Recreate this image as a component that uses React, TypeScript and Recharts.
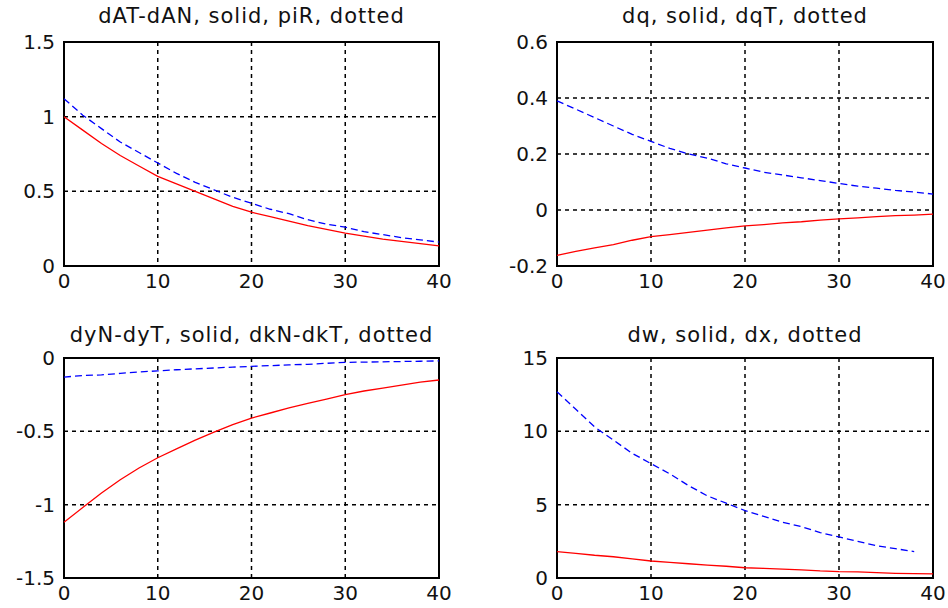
import React from "react";
import { LineChart, Line, XAxis, YAxis, CartesianGrid, ReferenceArea } from "recharts";

// time axis, read every 2 periods
const t = [0, 2, 4, 6, 8, 10, 12, 14, 16, 18, 20, 22, 24, 26, 28, 30, 32, 34, 36, 38, 40];

// dAT-dAN (solid) / piR (dotted)
const dATdAN = [1.0, 0.91, 0.82, 0.74, 0.67, 0.6, 0.55, 0.5, 0.45, 0.4, 0.36, 0.33, 0.3, 0.27, 0.245, 0.22, 0.2, 0.18, 0.165, 0.15, 0.135];
const piR = [1.12, 1.01, 0.92, 0.83, 0.76, 0.69, 0.62, 0.56, 0.51, 0.46, 0.42, 0.38, 0.35, 0.31, 0.28, 0.26, 0.23, 0.21, 0.19, 0.175, 0.16];

// dq (solid) / dqT (dotted)
const dq = [-0.162, -0.148, -0.135, -0.124, -0.108, -0.095, -0.088, -0.08, -0.072, -0.064, -0.057, -0.052, -0.046, -0.042, -0.036, -0.032, -0.028, -0.024, -0.02, -0.018, -0.015];
const dqT = [0.39, 0.36, 0.33, 0.3, 0.27, 0.245, 0.22, 0.2, 0.185, 0.165, 0.15, 0.135, 0.125, 0.115, 0.105, 0.095, 0.085, 0.078, 0.07, 0.064, 0.057];

// dyN-dyT (solid) / dkN-dkT (dotted)
const dyNdyT = [-1.12, -1.02, -0.92, -0.83, -0.75, -0.68, -0.62, -0.56, -0.505, -0.455, -0.41, -0.375, -0.34, -0.31, -0.28, -0.25, -0.225, -0.205, -0.185, -0.165, -0.15];
const dkNdkT = [-0.13, -0.12, -0.115, -0.105, -0.095, -0.088, -0.08, -0.074, -0.068, -0.062, -0.057, -0.052, -0.047, -0.043, -0.036, -0.03, -0.028, -0.026, -0.024, -0.022, -0.02];

// dw (solid) / dx (dotted)
const dw = [1.8, 1.68, 1.55, 1.45, 1.3, 1.16, 1.07, 0.97, 0.88, 0.8, 0.7, 0.66, 0.6, 0.56, 0.48, 0.43, 0.42, 0.36, 0.32, 0.3, 0.28];
const dx = [12.7, 11.5, 10.3, 9.4, 8.5, 7.8, 7.1, 6.3, 5.6, 5.1, 4.6, 4.2, 3.8, 3.5, 3.1, 2.8, 2.5, 2.2, 2.0, 1.8, null];

const xTicks = [0, 10, 20, 30, 40];

const FONT = "'DejaVu Sans', sans-serif";
const tickStyle = { fontSize: 20, fill: "#111", fontFamily: FONT };

interface PanelProps {
  title: string;
  solid: (number | null)[];
  dotted: (number | null)[];
  yTicks: number[];
  left: number;
  top: number;
  margin: { top: number; right: number; bottom: number; left: number };
  titleTop: number;
}

function Panel({ title, solid, dotted, yTicks, left, top, margin, titleTop }: PanelProps) {
  const data = t.map((x, i) => ({ t: x, solid: solid[i], dotted: dotted[i] }));
  const lo = yTicks[0];
  const hi = yTicks[yTicks.length - 1];
  const plotLeft = margin.left + 60;
  const plotRight = 474 - margin.right;
  return (
    <div style={{ position: "absolute", left, top, width: 474, height: 304 }}>
      <div
        style={{
          position: "absolute", top: titleTop, left: plotLeft, width: plotRight - plotLeft,
          textAlign: "center", fontFamily: FONT, fontSize: 21, letterSpacing: 1, color: "#111",
          whiteSpace: "nowrap",
        }}
      >
        {title}
      </div>
      <LineChart width={474} height={304} data={data} margin={margin}>
        <CartesianGrid stroke="#000" strokeWidth={1.5} strokeDasharray="4 4" />
        <XAxis
          dataKey="t" type="number" domain={[0, 40]} ticks={xTicks}
          axisLine={false} tickLine={false} tickSize={0} tickMargin={8} height={30}
          tick={tickStyle} interval={0}
        />
        <YAxis
          type="number" domain={[lo, hi]} ticks={yTicks} width={60}
          axisLine={false} tickLine={false} tickSize={0} tickMargin={9}
          tick={tickStyle} interval={0} allowDataOverflow
        />
        <ReferenceArea x1={0} x2={40} y1={lo} y2={hi} fill="none" stroke="#000" strokeWidth={2} />
        <Line dataKey="dotted" stroke="#0000FF" strokeWidth={1.3} strokeDasharray="7 4" dot={false} isAnimationActive={false} connectNulls={false} />
        <Line dataKey="solid" stroke="#FF0000" strokeWidth={1.3} dot={false} isAnimationActive={false} />
      </LineChart>
    </div>
  );
}

export default function App() {
  return (
    <div style={{ position: "absolute", left: 0, top: 0, width: 948, height: 608, background: "#fff" }}>
      <Panel
        title="dAT-dAN, solid, piR, dotted" solid={dATdAN} dotted={piR} yTicks={[0, 0.5, 1, 1.5]}
        left={0} top={0} margin={{ top: 42, right: 35, bottom: 8, left: 4 }} titleTop={4}
      />
      <Panel
        title="dq, solid, dqT, dotted" solid={dq} dotted={dqT} yTicks={[-0.2, 0, 0.2, 0.4, 0.6]}
        left={474} top={0} margin={{ top: 42, right: 15, bottom: 8, left: 23 }} titleTop={4}
      />
      <Panel
        title="dyN-dyT, solid, dkN-dkT, dotted" solid={dyNdyT} dotted={dkNdkT} yTicks={[-1.5, -1, -0.5, 0]}
        left={0} top={304} margin={{ top: 54, right: 35, bottom: 0, left: 4 }} titleTop={19}
      />
      <Panel
        title="dw, solid, dx, dotted" solid={dw} dotted={dx} yTicks={[0, 5, 10, 15]}
        left={474} top={304} margin={{ top: 54, right: 15, bottom: 0, left: 23 }} titleTop={19}
      />
    </div>
  );
}
